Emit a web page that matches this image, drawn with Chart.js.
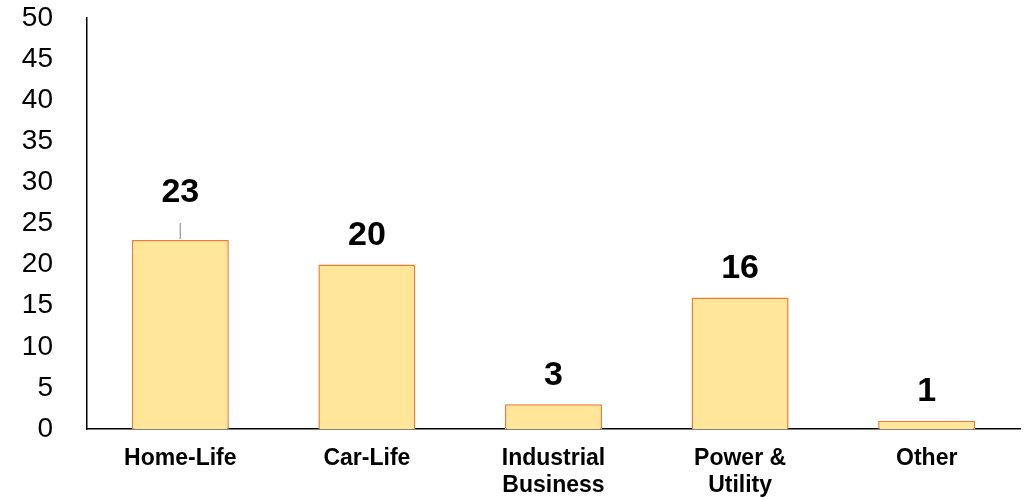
<!DOCTYPE html>
<html>
<head>
<meta charset="utf-8">
<script src="https://cdn.jsdelivr.net/npm/chart.js@4.4.0/dist/chart.umd.min.js"></script>
<style>
  body { margin: 0; background: #fff; }
  #wrap { width: 1024px; height: 500px; }
</style>
</head>
<body>
<div id="wrap"><canvas id="grafico"></canvas></div>
<script>
// Dados do gráfico
const categorias = [['Home-Life'], ['Car-Life'], ['Industrial', 'Business'], ['Power &', 'Utility'], ['Other']];
const valores = [23, 20, 3, 16, 1];
const eixoY = { min: 0, max: 50, passo: 5 };

// Rótulos de valor acima das barras
const rotulosValor = {
    id: 'rotulosValor',
    afterDatasetsDraw(chart) {
        const ctx = chart.ctx;
        const meta = chart.getDatasetMeta(0);
        ctx.save();
        ctx.font = 'bold 34px "Liberation Sans", Arial, sans-serif';
        ctx.fillStyle = '#000';
        ctx.textAlign = 'center';
        ctx.textBaseline = 'middle';
        meta.data.forEach(function(bar, i) {
            let lift = 29;
            if (i === 0) {
                // primeiro rótulo foi deslocado, com linha guia
                lift = 47;
                ctx.strokeStyle = '#a6a6a6';
                ctx.lineWidth = 1.5;
                ctx.beginPath();
                ctx.moveTo(bar.x, bar.y - 1);
                ctx.lineTo(bar.x, bar.y - 17);
                ctx.stroke();
            }
            ctx.fillText(String(valores[i]), bar.x, bar.y - lift);
        });
        ctx.restore();
    }
};

new Chart(document.getElementById('grafico'), {
    type: 'bar',
    data: {
        labels: categorias,
        datasets: [{
            data: valores,
            backgroundColor: '#FFE699',
            borderColor: '#ED7D31',
            borderWidth: 1.5,
            borderSkipped: 'bottom',
            categoryPercentage: 1,
            barPercentage: 0.52
        }]
    },
    options: {
        responsive: true,
        maintainAspectRatio: false,
        animation: false,
        layout: { padding: { top: 18, right: 4, left: 0, bottom: 0 } },
        plugins: { legend: { display: false }, tooltip: { enabled: false } },
        scales: {
            x: {
                grid: { display: false, drawTicks: false },
                border: { display: true, color: '#000', width: 1.5 },
                ticks: {
                    color: '#000',
                    padding: 16,
                    maxRotation: 0,
                    autoSkip: false,
                    font: { family: '"Liberation Sans", Arial, sans-serif', size: 23, weight: 'bold', lineHeight: 1.17 }
                },
                afterFit: function(scale) { scale.height = 71; }
            },
            y: {
                min: eixoY.min,
                max: eixoY.max,
                grid: { display: false, drawTicks: false },
                border: { display: true, color: '#000', width: 1.5 },
                ticks: {
                    stepSize: eixoY.passo,
                    color: '#000',
                    padding: 34,
                    font: { family: '"Liberation Sans", Arial, sans-serif', size: 28 }
                },
                afterFit: function(scale) {
                    scale.width = 87;
                    scale.paddingTop = 0;
                    scale.paddingBottom = 0;
                }
            }
        }
    },
    plugins: [rotulosValor]
});
</script>
</body>
</html>
